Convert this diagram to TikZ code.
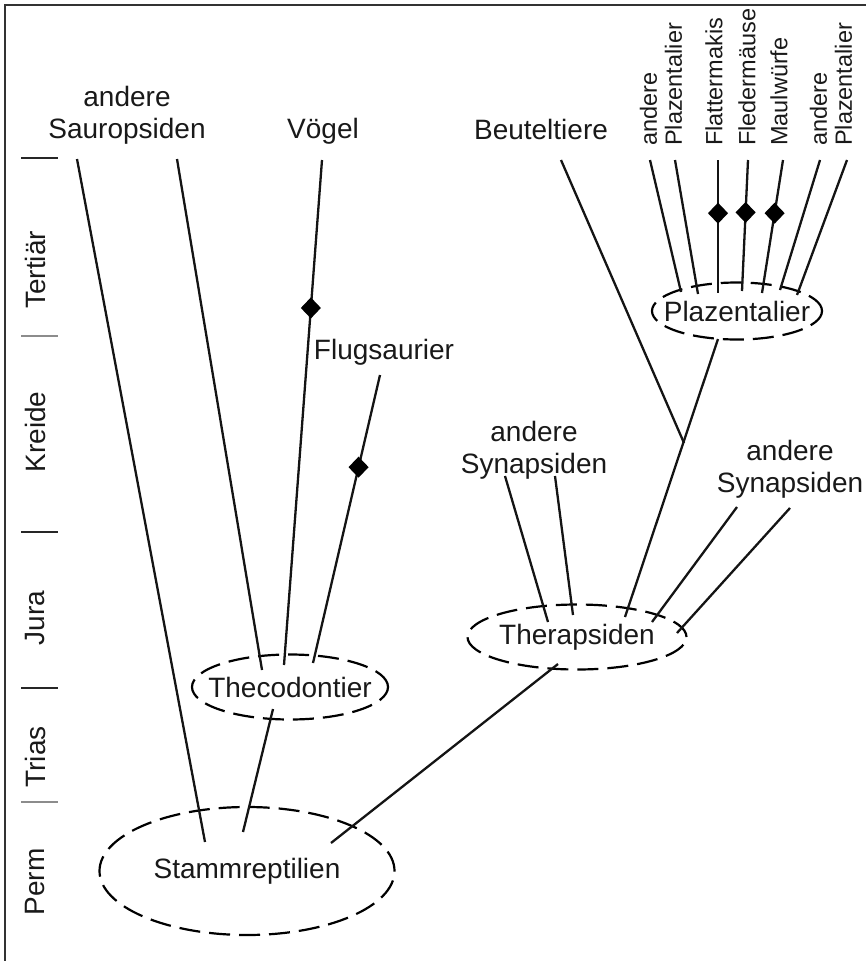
\documentclass[tikz,border=0pt]{standalone}
\usepackage{fontspec}
\setmainfont{Liberation Sans}
\usetikzlibrary{shapes.geometric}
\begin{document}
\begin{tikzpicture}[x=1pt,y=-1pt,
  line width=2.3pt, line cap=butt,
  lbl/.style={font=\fontsize{28}{32}\selectfont, align=center, inner sep=0pt, text=black!90},
  period/.style={font=\fontsize{28}{32}\selectfont, rotate=90, inner sep=0pt, text=black!90},
  rlbl/.style={font=\fontsize{23.5}{25}\selectfont, rotate=90, anchor=west, align=left, inner sep=0pt, text=black!90},
  grp/.style={ellipse, draw, dash pattern=on 21pt off 9pt, line width=2.2pt, inner sep=0pt},
  dia/.style={diamond, fill=black, draw=none, minimum width=21pt, minimum height=22pt, inner sep=0pt},
  tickm/.style={line width=1.3pt, draw=black!85},
  tickg/.style={line width=1.3pt, draw=black!45},
  br/.style={draw=black!92}]
\useasboundingbox (0,0) rectangle (866,961);
% frame
\coordinate (fbl) at (5,961);
\coordinate (ftl) at (5,5);
\coordinate (ftr) at (866,5);
\draw[line width=1.8pt, black!80] (fbl) -- (ftl) -- (ftr);

% time scale
\coordinate (t1a) at (21,158); \coordinate (t1b) at (58,158);
\coordinate (t2a) at (21,336); \coordinate (t2b) at (58,336);
\coordinate (t3a) at (21,532); \coordinate (t3b) at (58,532);
\coordinate (t4a) at (21,688); \coordinate (t4b) at (58,688);
\coordinate (t5a) at (21,802); \coordinate (t5b) at (58,802);
\draw[tickm] (t1a) -- (t1b);
\draw[tickg] (t2a) -- (t2b);
\draw[tickm] (t3a) -- (t3b);
\draw[tickm] (t4a) -- (t4b);
\draw[tickg] (t5a) -- (t5b);
\node[period] (tert) at (35,270) {Tertiär};
\node[period] (kreide) at (35,432) {Kreide};
\node[period] (jura) at (35,618) {Jura};
\node[period] (trias) at (35,757) {Trias};
\node[period] (perm) at (35,882) {Perm};

% groups
\node[grp, minimum width=295pt, minimum height=128pt] (stamm) at (247,871) {};
\node[grp, minimum width=196pt, minimum height=65pt] (theco) at (290,687) {};
\node[grp, minimum width=219pt, minimum height=65pt] (thera) at (577,637) {};
\node[grp, minimum width=170pt, minimum height=57pt] (plaz) at (737,311) {};
\node[lbl] (stammt) at (stamm.center) {Stammreptilien};
\node[lbl] (thecot) at (theco.center) {Thecodontier};
\node[lbl] (therat) at (thera.center) {Therapsiden};
\node[lbl] (plazt) at (plaz.center) {Plazentalier};

% top labels
\node[lbl] (saur) at (127,115) {andere\\Sauropsiden};
\node[lbl] (voegel) at (323,131) {Vögel};
\node[lbl] (beutel) at (541,129) {Beuteltiere};
\node[lbl] (flug) at (384,352) {Flugsaurier};
\node[lbl] (syn1) at (534,450) {andere\\Synapsiden};
\node[lbl] (syn2) at (790,469) {andere\\Synapsiden};

% rotated labels
\node[rlbl] (rp1) at (661,147) {andere\\Plazentalier};
\node[rlbl] (rfl) at (714,147) {Flattermakis};
\node[rlbl] (rfm) at (747,147) {Fledermäuse};
\node[rlbl] (rmw) at (779,147) {Maulwürfe};
\node[rlbl] (rp2) at (831,147) {andere\\Plazentalier};

% branch coordinates
\coordinate (s1t) at (77,159);  \coordinate (s1b) at (205,842);
\coordinate (s2t) at (177,159); \coordinate (s2b) at (262,670);
\coordinate (vt) at (322,160);  \coordinate (vb) at (284,665);
\coordinate (ft) at (380,375);  \coordinate (fb) at (313,663);
\coordinate (ths) at (273,709); \coordinate (thsb) at (243,832);
\coordinate (trs) at (558,664); \coordinate (trsb) at (331,843);
\coordinate (m1t) at (505,476); \coordinate (m1b) at (548,622);
\coordinate (m2t) at (555,476); \coordinate (m2b) at (573,615);
\coordinate (pt) at (718,339);  \coordinate (pb) at (625,617);
\coordinate (r1t) at (737,507); \coordinate (r1b) at (652,622);
\coordinate (r2t) at (790,508); \coordinate (r2b) at (677,633);
\coordinate (bt) at (561,160);  \coordinate (bb) at (684,443);
\coordinate (pa1) at (650,160); \coordinate (pa1b) at (681,292);
\coordinate (pa2) at (675,160); \coordinate (pa2b) at (698,294);
\coordinate (pa3) at (718,160); \coordinate (pa3b) at (718,293);
\coordinate (pa4) at (748,160); \coordinate (pa4b) at (742,291);
\coordinate (pa5) at (783,160); \coordinate (pa5b) at (762,293);
\coordinate (pa6) at (820,160); \coordinate (pa6b) at (780,290);
\coordinate (pa7) at (847,160); \coordinate (pa7b) at (797,295);

% branches
\draw[br] (s1t) -- (s1b);
\draw[br] (s2t) -- (s2b);
\draw[br] (vt) -- node[dia, pos=0.293] (dv) {} (vb);
\draw[br] (ft) -- node[dia, pos=0.32] (df) {} (fb);
\draw[br] (ths) -- (thsb);
\draw[br] (trs) -- (trsb);
\draw[br] (m1t) -- (m1b);
\draw[br] (m2t) -- (m2b);
\draw[br] (pt) -- (pb);
\draw[br] (r1t) -- (r1b);
\draw[br] (r2t) -- (r2b);
\draw[br] (bt) -- (bb);
\draw[br] (pa1) -- (pa1b);
\draw[br] (pa2) -- (pa2b);
\draw[br] (pa3) -- node[dia, pos=0.4] (d1) {} (pa3b);
\draw[br] (pa4) -- node[dia, pos=0.4] (d2) {} (pa4b);
\draw[br] (pa5) -- node[dia, pos=0.4] (d3) {} (pa5b);
\draw[br] (pa6) -- (pa6b);
\draw[br] (pa7) -- (pa7b);
\end{tikzpicture}
\end{document}
